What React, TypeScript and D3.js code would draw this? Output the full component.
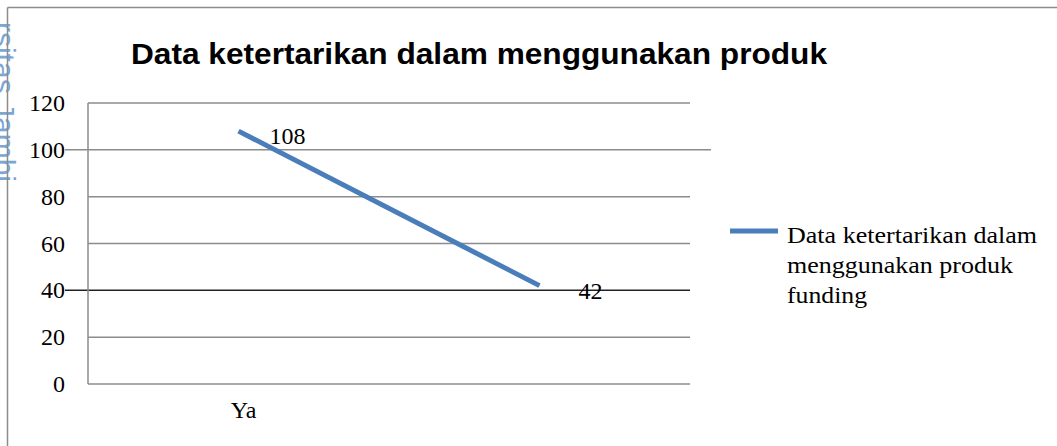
import React from "react";
import * as d3 from "d3";

const categories = ["Ya", ""];
const values = [108, 42];
const yTicks = [0, 20, 40, 60, 80, 100, 120];
const title = "Data ketertarikan dalam menggunakan produk";
const legendLines = ["Data ketertarikan dalam", "menggunakan produk", "funding"];
const legendWidths = [250, 226, 80];

const W = 1057;
const H = 446;
const plot = { left: 88, right: 690, top: 103, bottom: 384 };

export default function App() {
  const x = d3.scaleBand<string>().domain(categories.map((c, i) => String(i))).range([plot.left, plot.right]);
  const y = d3.scaleLinear().domain([0, 120]).range([plot.bottom, plot.top]);
  const cx = (i: number) => (x(String(i)) as number) + x.bandwidth() / 2;
  const line = d3
    .line<number>()
    .x((_, i) => cx(i))
    .y((d) => y(d));
  const serif = "'Liberation Serif', 'Times New Roman', serif";
  return (
    <svg
      width={W}
      height={H}
      style={{ position: "absolute", left: 0, top: 0, background: "#fff" }}
    >
      <rect x={0} y={0} width={W} height={H} fill="#fff" />
      {/* watermark */}
      <text
        transform="translate(-6,0) rotate(90)"
        x={182}
        y={0}
        textAnchor="end"
        fontFamily="'Liberation Sans', Arial, sans-serif"
        fontSize={30}
        fill="#7aa7d4"
      >
        rsitas Jambi
      </text>
      {/* outer border */}
      <line x1={7.5} y1={7.5} x2={W} y2={7.5} stroke="#8c8c8c" strokeWidth={1.5} />
      <line x1={7.5} y1={7.5} x2={7.5} y2={H} stroke="#8c8c8c" strokeWidth={1.5} />
      <text
        x={131}
        y={64}
        fontFamily="'Liberation Sans', Arial, sans-serif"
        fontWeight="bold"
        fontSize={30}
        textLength={696}
        lengthAdjust="spacingAndGlyphs"
        fill="#000"
      >
        {title}
      </text>
      {/* gridlines */}
      {yTicks.map((t) => {
        let x1 = plot.left;
        let x2 = plot.right;
        let stroke = "#8c8c8c";
        if (t === 100) {
          x1 = 65;
          x2 = 711;
        }
        if (t === 40) {
          x1 = 65;
          stroke = "#222";
        }
        return (
          <line key={t} x1={x1} x2={x2} y1={y(t)} y2={y(t)} stroke={stroke} strokeWidth={1.5} />
        );
      })}
      <line x1={plot.left} x2={plot.left} y1={plot.top} y2={plot.bottom} stroke="#8c8c8c" strokeWidth={1.5} />
      {yTicks.map((t) => (
        <text
          key={"l" + t}
          x={65}
          y={y(t) + 8}
          textAnchor="end"
          fontFamily={serif}
          fontSize={24}
          fill="#000"
        >
          {t}
        </text>
      ))}
      {categories.map((c, i) => (
        <text key={"c" + i} x={cx(i) + 5} y={418} textAnchor="middle" fontFamily={serif} fontSize={24} fill="#000">
          {c}
        </text>
      ))}
      <path d={line(values) || ""} fill="none" stroke="#4a7ebb" strokeWidth={5} />
      {values.map((v, i) => (
        <text
          key={"v" + i}
          x={cx(i) + (i === 0 ? 49 : 51)}
          y={y(v) + 13}
          textAnchor="middle"
          fontFamily={serif}
          fontSize={24}
          fill="#000"
        >
          {v}
        </text>
      ))}
      {/* legend */}
      <line x1={730} x2={778} y1={231} y2={231} stroke="#4a7ebb" strokeWidth={5} />
      {legendLines.map((s, i) => (
        <text
          key={"lg" + i}
          x={787}
          y={243 + i * 30}
          fontFamily={serif}
          fontSize={24}
          textLength={legendWidths[i]}
          lengthAdjust="spacingAndGlyphs"
          fill="#000"
        >
          {s}
        </text>
      ))}
    </svg>
  );
}
